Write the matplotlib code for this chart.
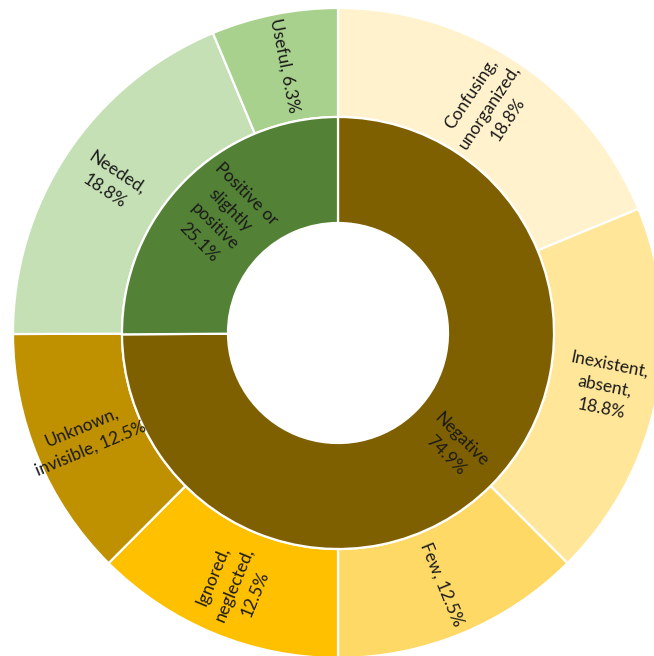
import numpy as np
import matplotlib
matplotlib.use("Agg")
import matplotlib.pyplot as plt

# ---- data ----
outer_labels = ["Confusing,\nunorganized,\n18.8%", "Inexistent,\nabsent,\n18.8%", "Few, 12.5%",
                "Ignored,\nneglected,\n12.5%", "Unknown,\ninvisible, 12.5%", "Needed,\n18.8%", "Useful, 6.3%"]
outer_values = [18.8, 18.8, 12.5, 12.5, 12.5, 18.8, 6.3]
outer_colors = ["#FFF2CC", "#FFE699", "#FFD966", "#FFC000", "#BF9000", "#C5E0B4", "#A9D18E"]

inner_labels = ["Negative\n74.9%", "Positive or\nslightly\npositive\n25.1%"]
inner_values = [74.9, 25.1]
inner_colors = ["#7F6000", "#538135"]

plt.rcParams['font.family'] = ['Lato', 'DejaVu Sans']

W, H = 654, 656
cx, cy = 338, 333          # centre in pixels from top-left
R_out, R_mid, R_in = 325, 216, 110

fig = plt.figure(figsize=(W / 100, H / 100), dpi=100)
ax = fig.add_axes([0, 0, 1, 1])

wp = dict(edgecolor="white", linewidth=1.6)
w_out, _ = ax.pie(outer_values, radius=R_out, startangle=90, counterclock=False,
                  colors=outer_colors, wedgeprops=dict(width=R_out - R_mid, **wp))
w_in, _ = ax.pie(inner_values, radius=R_mid, startangle=90, counterclock=False,
                 colors=inner_colors, wedgeprops=dict(width=R_mid - R_in, **wp))


def put_labels(wedges, labels, r):
    for w, lab in zip(wedges, labels):
        ang = (w.theta1 + w.theta2) / 2.0
        x, y = r * np.cos(np.radians(ang)), r * np.sin(np.radians(ang))
        rot = ((ang + 180) % 360) - 180
        if rot > 90:
            rot -= 180
        elif rot < -90:
            rot += 180
        ax.text(x, y, lab, rotation=rot, rotation_mode="anchor", ha="center", va="center",
                multialignment="center", fontsize=12.5, color="#1a1a1a", linespacing=1.5)


put_labels(w_out, outer_labels, (R_out + R_mid) / 2 + 2)
put_labels(w_in, inner_labels, (R_mid + R_in) / 2)

ax.set_xlim(-cx, W - cx)
ax.set_ylim(-(H - cy), cy)
ax.set_aspect("equal")
ax.axis("off")

fig.savefig("out.png", dpi=100)
